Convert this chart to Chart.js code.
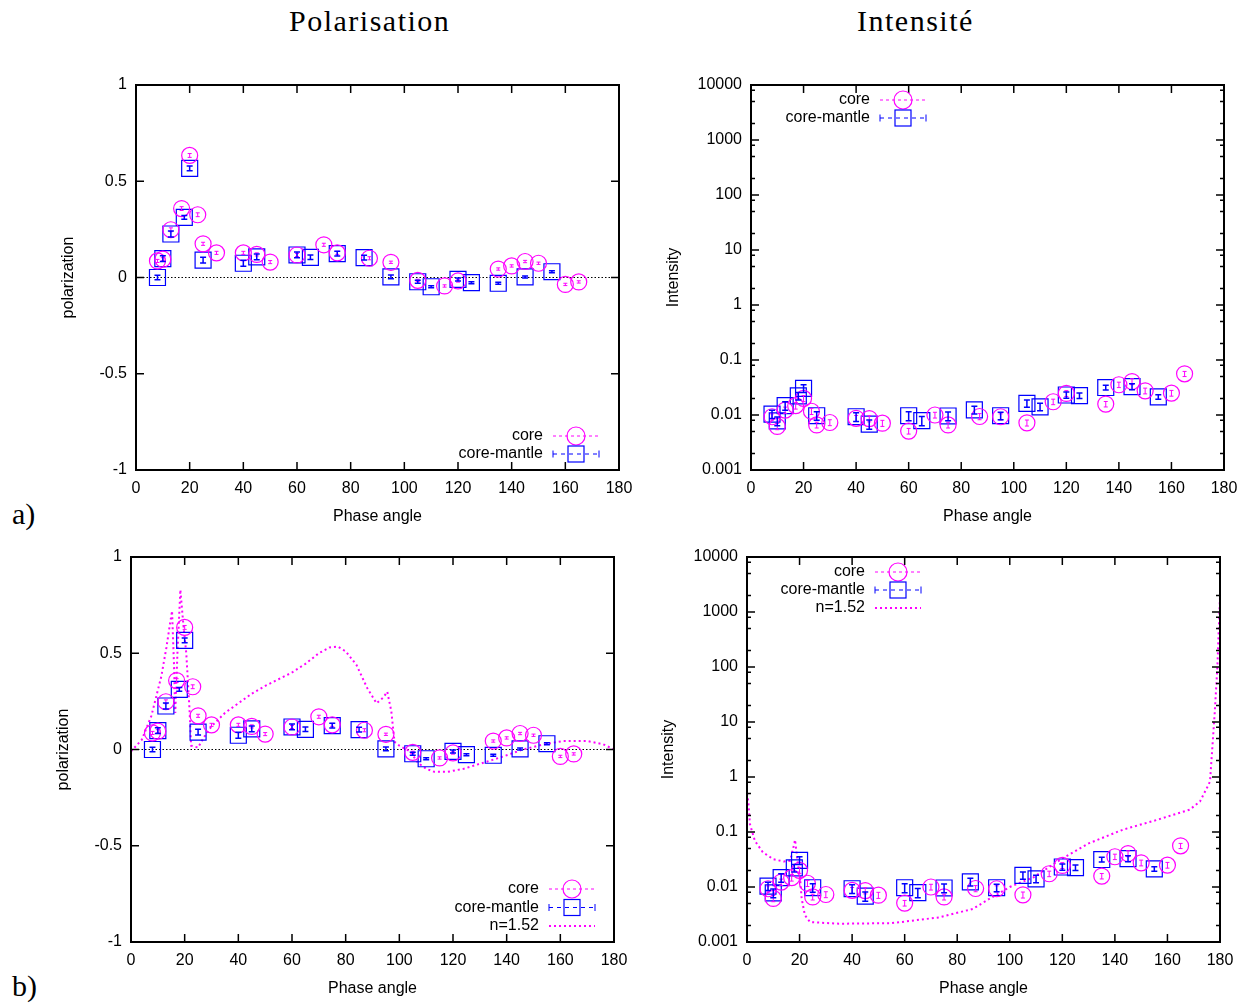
<!DOCTYPE html>
<html>
<head>
<meta charset="utf-8">
<title>Polarisation / Intensité</title>
<script src="https://cdn.jsdelivr.net/npm/chart.js@4.4.1/dist/chart.umd.min.js"></script>
<style>
  html, body { margin: 0; padding: 0; background: #fff; }
  body { width: 1247px; height: 1003px; position: relative; overflow: hidden; }
  .panel { position: absolute; }
  .title, .tag { position: absolute; font-family: 'Liberation Serif', 'DejaVu Serif', serif; color: #000; white-space: nowrap; }
  .title { font-size: 30px; letter-spacing: 1.5px; top: 4px; }
  .tag { font-size: 30px; left: 12px; }
</style>
</head>
<body>
<div class="title" style="left:289px">Polarisation</div>
<div class="title" style="left:857px">Intensité</div>
<div class="tag" style="top:497px">a)</div>
<div class="tag" style="top:969px">b)</div>

<canvas id="polA" class="panel" width="600" height="460" style="left:40px;top:70px"></canvas>
<canvas id="intA" class="panel" width="590" height="460" style="left:655px;top:70px"></canvas>
<canvas id="polB" class="panel" width="600" height="460" style="left:35px;top:542px"></canvas>
<canvas id="intB" class="panel" width="590" height="460" style="left:651px;top:542px"></canvas>

<script>
// axis ticks
const xTicks = [0, 20, 40, 60, 80, 100, 120, 140, 160, 180];
const polTicks = [-1, -0.5, 0, 0.5, 1];
const polTickLabels = ['-1', '-0.5', '0', '0.5', '1'];
const intTicks = [0.001, 0.01, 0.1, 1, 10, 100, 1000, 10000];
const intTickLabels = ['0.001', '0.01', '0.1', '1', '10', '100', '1000', '10000'];

// core (circles)
const coreAngle = [8, 10, 13, 17, 20, 23, 25, 30, 40, 45, 50, 60, 70, 75, 87, 95, 105, 115, 120, 135, 140, 145, 150, 160, 165];
const corePol = [0.086, 0.095, 0.248, 0.358, 0.634, 0.326, 0.175, 0.128, 0.128, 0.12, 0.08, 0.117, 0.17, 0.128, 0.10, 0.079, -0.015, -0.044, -0.018, 0.044, 0.06, 0.083, 0.074, -0.036, -0.023];
const corePolErr = [0.008, 0.008, 0.01, 0.01, 0.01, 0.01, 0.008, 0.008, 0.008, 0.008, 0.008, 0.008, 0.008, 0.008, 0.008, 0.006, 0.006, 0.006, 0.006, 0.006, 0.006, 0.006, 0.006, 0.006, 0.006];
const coreInt = [0.0093, 0.0062, 0.0123, 0.0148, 0.020, 0.0117, 0.0066, 0.0073, 0.0087, 0.0086, 0.0071, 0.0051, 0.0100, 0.0066, 0.0094, 0.0093, 0.0072, 0.0174, 0.0247, 0.0158, 0.0355, 0.0406, 0.0275, 0.025, 0.056];
const coreIntErr = [0.0012, 0.0008, 0.0016, 0.002, 0.0025, 0.0015, 0.0008, 0.0009, 0.0011, 0.0011, 0.0009, 0.0006, 0.0012, 0.0008, 0.0012, 0.0012, 0.0009, 0.002, 0.003, 0.0018, 0.004, 0.005, 0.0033, 0.003, 0.006];

// core-mantle (squares)
const mantleAngle = [8, 10, 13, 18, 20, 25, 40, 45, 60, 65, 75, 85, 95, 105, 110, 120, 125, 135, 145, 155];
const mantlePol = [0.0, 0.098, 0.226, 0.312, 0.567, 0.09, 0.074, 0.107, 0.117, 0.105, 0.124, 0.103, 0.003, -0.022, -0.048, -0.01, -0.027, -0.03, 0.003, 0.03];
const mantlePolErr = [0.012, 0.015, 0.015, 0.01, 0.012, 0.015, 0.015, 0.015, 0.015, 0.012, 0.012, 0.012, 0.01, 0.008, 0.005, 0.008, 0.005, 0.005, 0.005, 0.005];
const mantleInt = [0.0104, 0.0078, 0.0148, 0.0222, 0.0306, 0.0097, 0.0093, 0.0068, 0.0097, 0.0079, 0.0096, 0.0124, 0.0097, 0.0163, 0.0141, 0.0231, 0.0225, 0.0316, 0.0329, 0.0213];
const mantleIntErr = [0.0018, 0.0014, 0.0026, 0.0035, 0.005, 0.0017, 0.0017, 0.0013, 0.0018, 0.0015, 0.0017, 0.002, 0.0015, 0.0025, 0.0022, 0.003, 0.0025, 0.003, 0.004, 0.002];

// n=1.52 sphere curves
const mieAngle = [0, 4, 7.6, 11.3, 13.2, 14.5, 15.3, 16, 16.5, 17.3, 18.4, 19.5, 20.6, 21.8, 22.4, 25, 27, 30, 35, 40, 45, 50, 55, 60, 65, 70, 74, 77, 80, 84, 88, 91.5, 94, 95.5, 97, 98.2, 100, 104, 107, 110, 113, 118, 124, 131, 139, 146, 154, 161, 170, 176, 180];
const miePol = [-0.01, 0.05, 0.175, 0.38, 0.53, 0.65, 0.72, 0.45, 0.19, 0.5, 0.83, 0.65, 0.5, 0.21, 0.02, 0.01, 0.06, 0.12, 0.19, 0.24, 0.29, 0.33, 0.365, 0.40, 0.445, 0.50, 0.53, 0.535, 0.51, 0.44, 0.32, 0.24, 0.27, 0.30, 0.20, 0.04, 0.02, -0.01, -0.07, -0.10, -0.116, -0.116, -0.10, -0.07, -0.035, 0.0, 0.027, 0.044, 0.044, 0.027, 0.0];
const mieIntAngle = [0, 0.5, 1.1, 3, 6, 10, 14, 16.4, 17.6, 18.3, 19.1, 20.2, 20.8, 22, 24, 35, 55, 73, 86, 92, 100, 109, 120, 130, 143, 156, 168.5, 172.4, 175, 176.2, 177, 178, 179, 180];
const mieInt = [0.5, 0.36, 0.14, 0.069, 0.043, 0.032, 0.029, 0.030, 0.051, 0.072, 0.033, 0.0145, 0.0062, 0.0031, 0.0023, 0.00215, 0.0022, 0.0028, 0.004, 0.006, 0.010, 0.015, 0.033, 0.062, 0.11, 0.166, 0.255, 0.36, 0.63, 0.83, 3, 15, 100, 1900];

const MAGENTA = '#ff00ff';
const BLUE = '#0000ff';
const FONT = "'Liberation Sans', Arial, sans-serif";

Chart.defaults.font.family = FONT;
Chart.defaults.font.size = 16;
Chart.defaults.color = '#000';

function zip(xs, ys) {
  return xs.map((x, i) => ({ x: x, y: ys[i] }));
}

// drop the label overhang padding so the plot box follows layout.padding
function noOverhang(s) {
  s.paddingTop = 0;
  s.paddingBottom = 0;
  s.paddingLeft = 0;
  s.paddingRight = 0;
}

// gnuplot style frame, inward ticks, zero line
const framePlugin = {
  id: 'gpFrame',
  beforeDatasetsDraw(chart, args, opts) {
    if (!opts.zeroLine) return;
    const { ctx, chartArea: a } = chart;
    const y0 = chart.scales.y.getPixelForValue(0);
    ctx.save();
    ctx.strokeStyle = '#000';
    ctx.lineWidth = 1;
    ctx.setLineDash([1.5, 2]);
    ctx.beginPath();
    ctx.moveTo(a.left, y0);
    ctx.lineTo(a.right, y0);
    ctx.stroke();
    ctx.restore();
  },
  afterDatasetsDraw(chart, args, opts) {
    const { ctx, chartArea: a } = chart;
    const xs = chart.scales.x, ys = chart.scales.y;
    ctx.save();
    ctx.strokeStyle = '#000';
    ctx.lineWidth = 1.5;
    ctx.beginPath();
    xs.ticks.forEach(t => {
      const px = xs.getPixelForValue(t.value);
      ctx.moveTo(px, a.bottom); ctx.lineTo(px, a.bottom - 8);
      ctx.moveTo(px, a.top); ctx.lineTo(px, a.top + 8);
    });
    ys.ticks.forEach(t => {
      const py = ys.getPixelForValue(t.value);
      ctx.moveTo(a.left, py); ctx.lineTo(a.left + 8, py);
      ctx.moveTo(a.right, py); ctx.lineTo(a.right - 8, py);
    });
    // minor ticks on the log axis
    if (opts.logMinor) {
      intTicks.slice(0, -1).forEach(d => {
        [2, 5, 8].forEach(m => {
          const py = ys.getPixelForValue(d * m);
          ctx.moveTo(a.left, py); ctx.lineTo(a.left + 4, py);
          ctx.moveTo(a.right, py); ctx.lineTo(a.right - 4, py);
        });
      });
    }
    ctx.stroke();
    ctx.lineWidth = 2;
    ctx.strokeRect(a.left, a.top, a.width, a.height);
    ctx.restore();
  }
};

// error bars for datasets carrying an "errors" array
const errorBarPlugin = {
  id: 'gpErrors',
  afterDatasetsDraw(chart) {
    const { ctx } = chart;
    const ys = chart.scales.y;
    chart.data.datasets.forEach((ds, di) => {
      if (!ds.errors) return;
      const meta = chart.getDatasetMeta(di);
      const cap = ds.pointStyle === 'rect' ? 3 : 2;
      ctx.save();
      ctx.strokeStyle = ds.pointBorderColor;
      ctx.lineWidth = ds.pointStyle === 'rect' ? 1.5 : 1;
      ctx.beginPath();
      meta.data.forEach((pt, i) => {
        const v = ds.data[i].y, e = ds.errors[i];
        const lo = ys.getPixelForValue(v - e), hi = ys.getPixelForValue(v + e);
        ctx.moveTo(pt.x, lo); ctx.lineTo(pt.x, hi);
        ctx.moveTo(pt.x - cap, lo); ctx.lineTo(pt.x + cap, lo);
        ctx.moveTo(pt.x - cap, hi); ctx.lineTo(pt.x + cap, hi);
      });
      ctx.stroke();
      ctx.restore();
    });
  }
};

// key drawn inside the plot like gnuplot
const keyPlugin = {
  id: 'gpKey',
  afterDraw(chart, args, opts) {
    if (!opts.items) return;
    const { ctx, chartArea: a } = chart;
    ctx.save();
    ctx.font = '16px ' + FONT;
    ctx.textAlign = 'right';
    ctx.textBaseline = 'middle';
    opts.items.forEach((it, i) => {
      const tx = a.left + opts.x;
      const y = a.top + opts.y + i * opts.row;
      ctx.fillStyle = '#000';
      ctx.fillText(it, tx, y);
      const x0 = tx + 10, x1 = tx + 56, xm = (x0 + x1) / 2;
      if (it === 'core') {
        ctx.strokeStyle = MAGENTA;
        ctx.lineWidth = 1;
        ctx.setLineDash([3, 3]);
        ctx.beginPath(); ctx.moveTo(x0, y); ctx.lineTo(x1, y); ctx.stroke();
        ctx.setLineDash([]);
        ctx.lineWidth = 1.2;
        ctx.beginPath(); ctx.arc(xm, y, 9, 0, Math.PI * 2); ctx.stroke();
      } else if (it === 'core-mantle') {
        ctx.strokeStyle = BLUE;
        ctx.lineWidth = 1;
        ctx.setLineDash([4, 4]);
        ctx.beginPath(); ctx.moveTo(x0, y); ctx.lineTo(x1, y); ctx.stroke();
        ctx.setLineDash([]);
        ctx.beginPath();
        ctx.moveTo(x0, y - 3.5); ctx.lineTo(x0, y + 3.5);
        ctx.moveTo(x1, y - 3.5); ctx.lineTo(x1, y + 3.5);
        ctx.stroke();
        ctx.lineWidth = 1.2;
        ctx.strokeRect(xm - 8, y - 8, 16, 16);
      } else {
        ctx.strokeStyle = MAGENTA;
        ctx.lineWidth = 2;
        ctx.setLineDash([2, 3]);
        ctx.beginPath(); ctx.moveTo(x0, y); ctx.lineTo(x1, y); ctx.stroke();
        ctx.setLineDash([]);
      }
    });
    ctx.restore();
  }
};

// build one panel
function makePanel(id, isPol, withMie, key, titlePad) {
  const datasets = [
    {
      label: 'core',
      data: zip(coreAngle, isPol ? corePol : coreInt),
      errors: isPol ? corePolErr : coreIntErr,
      pointStyle: 'circle',
      pointRadius: 8,
      pointBorderColor: MAGENTA,
      pointBackgroundColor: 'transparent',
      pointBorderWidth: 1.2,
      showLine: false
    },
    {
      label: 'core-mantle',
      data: zip(mantleAngle, isPol ? mantlePol : mantleInt),
      errors: isPol ? mantlePolErr : mantleIntErr,
      pointStyle: 'rect',
      pointRadius: 11.3,
      pointBorderColor: BLUE,
      pointBackgroundColor: 'transparent',
      pointBorderWidth: 1.2,
      showLine: false
    }
  ];
  if (withMie) {
    datasets.push({
      label: 'n=1.52',
      data: isPol ? zip(mieAngle, miePol) : zip(mieIntAngle, mieInt),
      showLine: true,
      borderColor: MAGENTA,
      borderWidth: 2,
      borderDash: [2, 3],
      pointRadius: 0,
      tension: 0
    });
  }

  const yScale = isPol ? {
    type: 'linear',
    min: -1,
    max: 1,
    afterBuildTicks: s => { s.ticks = polTicks.map(v => ({ value: v })); },
    ticks: { padding: 9, callback: (v, i) => polTickLabels[i] }
  } : {
    type: 'logarithmic',
    min: 0.001,
    max: 10000,
    afterBuildTicks: s => { s.ticks = intTicks.map(v => ({ value: v })); },
    ticks: { padding: 9, callback: (v, i) => intTickLabels[i] }
  };
  yScale.grid = { drawOnChartArea: false, drawTicks: false };
  yScale.border = { display: false };
  yScale.title = { display: true, text: isPol ? 'polarization' : 'Intensity', padding: { top: titlePad, bottom: 0 } };
  yScale.afterFit = s => { s.width = 96; noOverhang(s); };

  return new Chart(document.getElementById(id), {
    type: 'scatter',
    data: { datasets: datasets },
    options: {
      responsive: false,
      animation: false,
      layout: { padding: { left: 0, right: 21, top: 15, bottom: 0 } },
      scales: {
        x: {
          type: 'linear',
          min: 0,
          max: 180,
          afterBuildTicks: s => { s.ticks = xTicks.map(v => ({ value: v })); },
          ticks: { padding: 9, maxRotation: 0, callback: v => String(v) },
          grid: { drawOnChartArea: false, drawTicks: false },
          border: { display: false },
          title: { display: true, text: 'Phase angle', padding: { top: 0, bottom: 4 } },
          afterFit: s => { s.height = 60; noOverhang(s); }
        },
        y: yScale
      },
      plugins: {
        legend: { display: false },
        tooltip: { enabled: false },
        gpFrame: { zeroLine: isPol, logMinor: !isPol },
        gpKey: key
      }
    },
    plugins: [framePlugin, errorBarPlugin, keyPlugin]
  });
}

makePanel('polA', true, false, { x: 407, y: 351, row: 18, items: ['core', 'core-mantle'] }, 19);
makePanel('intA', false, false, { x: 119, y: 15, row: 18, items: ['core', 'core-mantle'] }, 9);
makePanel('polB', true, true, { x: 408, y: 332, row: 18.5, items: ['core', 'core-mantle', 'n=1.52'] }, 19);
makePanel('intB', false, true, { x: 118, y: 15, row: 18, items: ['core', 'core-mantle', 'n=1.52'] }, 8);
</script>
</body>
</html>
